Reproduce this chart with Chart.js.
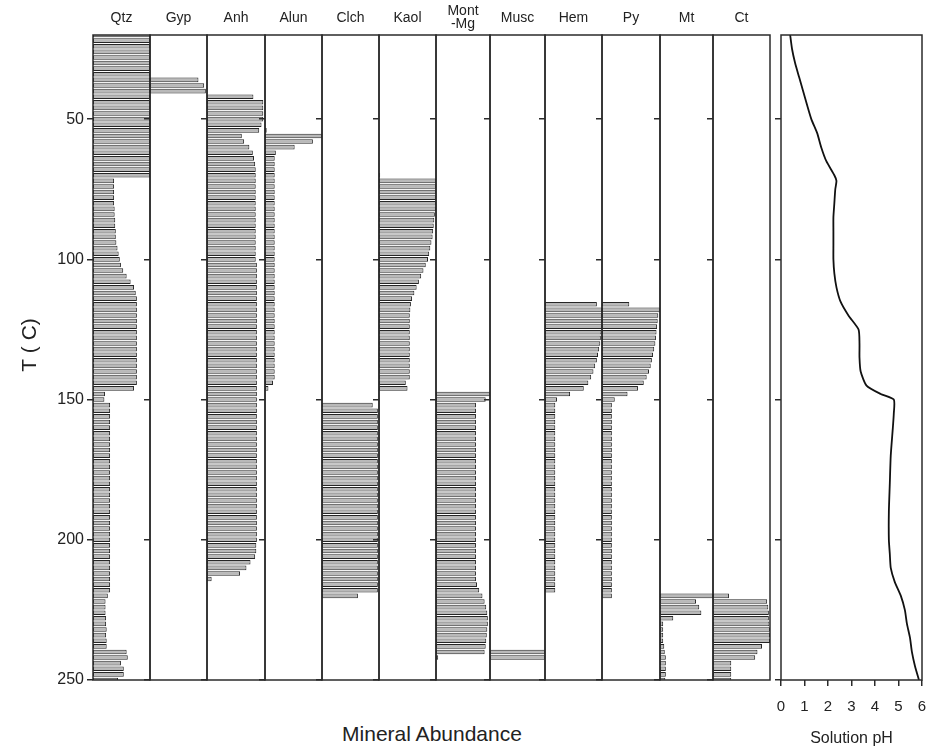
<!DOCTYPE html>
<html>
<head>
<meta charset="utf-8">
<script src="https://cdn.jsdelivr.net/npm/chart.js@4.4.1/dist/chart.umd.min.js"></script>
<style>
  body { margin: 0; background: #fff; width: 927px; height: 755px; position: relative; overflow: hidden;
         font-family: "Liberation Sans", Arial, sans-serif; }
  canvas { position: absolute; top: 0; }
  #xtitle { position: absolute; left: 282px; width: 300px; top: 722px; text-align: center; font-size: 21px; color: #222; }
</style>
</head>
<body>
<div id="xtitle">Mineral Abundance</div>
<script>
// temperature of each simulation step (deg C)
const temps = [
  20,22,24,26,28,30,32,34,36,38,
  40,42,44,46,48,50,52,54,56,58,
  60,62,64,66,68,70,72,74,76,78,
  80,82,84,86,88,90,92,94,96,98,
  100,102,104,106,108,110,112,114,116,118,
  120,122,124,126,128,130,132,134,136,138,
  140,142,144,146,148,150,152,154,156,158,
  160,162,164,166,168,170,172,174,176,178,
  180,182,184,186,188,190,192,194,196,198,
  200,202,204,206,208,210,212,214,216,218,
  220,222,224,226,228,230,232,234,236,238,
  240,242,244,246,248,250
];

// relative abundance, % of panel width, one value per temperature
const qtz = [
  100,100,100,100,100,100,100,100,100,100,
  100,100,100,100,100,100,100,100,100,100,
  100,100,100,100,100,100,37,37,37,37,
  37,38,38,39,39,40,40,41,43,45,
  47,49,53,59,66,72,75,77,77,77,
  77,77,77,77,77,77,77,77,77,77,
  77,77,77,72,21,20,30,30,30,30,
  30,30,30,30,30,30,30,30,30,30,
  30,30,30,30,30,30,30,30,30,30,
  30,30,30,30,30,30,30,30,30,30,
  26,22,22,22,23,23,24,23,24,24,
  59,61,49,54,54,44
];
const gyp = [
  0,0,0,0,0,0,0,0,85,95,
  98,0,0,0,0,0,0,0,0,0,
  0,0,0,0,0,0,0,0,0,0,
  0,0,0,0,0,0,0,0,0,0,
  0,0,0,0,0,0,0,0,0,0,
  0,0,0,0,0,0,0,0,0,0,
  0,0,0,0,0,0,0,0,0,0,
  0,0,0,0,0,0,0,0,0,0,
  0,0,0,0,0,0,0,0,0,0,
  0,0,0,0,0,0,0,0,0,0,
  0,0,0,0,0,0,0,0,0,0,
  0,0,0,0,0,0
];
const anh = [
  0,0,0,0,0,0,0,0,0,0,
  0,80,97,97,97,97,94,90,60,64,
  73,79,81,83,84,84,84,84,84,84,
  84,84,84,84,84,84,84,84,84,84,
  84,86,86,86,86,86,86,86,86,86,
  86,86,86,86,86,86,86,86,86,86,
  86,86,86,86,86,86,86,86,86,86,
  86,86,86,86,86,86,86,86,86,86,
  86,86,86,86,86,86,86,86,86,86,
  86,85,85,83,75,68,57,8,0,0,
  0,0,0,0,0,0,0,0,0,0,
  0,0,0,0,0,0
];
const alun = [
  0,0,0,0,0,0,0,0,0,0,
  0,0,0,0,0,0,0,3,100,84,
  52,19,17,17,17,17,17,17,17,17,
  17,17,17,17,17,17,17,17,17,17,
  17,17,17,17,17,17,17,17,17,17,
  17,17,17,17,17,17,17,17,17,17,
  17,17,14,6,0,0,0,0,0,0,
  0,0,0,0,0,0,0,0,0,0,
  0,0,0,0,0,0,0,0,0,0,
  0,0,0,0,0,0,0,0,0,0,
  0,0,0,0,0,0,0,0,0,0,
  0,0,0,0,0,0
];
const clch = [
  0,0,0,0,0,0,0,0,0,0,
  0,0,0,0,0,0,0,0,0,0,
  0,0,0,0,0,0,0,0,0,0,
  0,0,0,0,0,0,0,0,0,0,
  0,0,0,0,0,0,0,0,0,0,
  0,0,0,0,0,0,0,0,0,0,
  0,0,0,0,0,0,89,98,98,98,
  98,98,98,98,98,98,98,98,98,98,
  98,98,98,98,98,98,98,98,98,98,
  98,98,98,98,98,98,98,98,98,98,
  63,0,0,0,0,0,0,0,0,0,
  0,0,0,0,0,0
];
const kaol = [
  0,0,0,0,0,0,0,0,0,0,
  0,0,0,0,0,0,0,0,0,0,
  0,0,0,0,0,2,100,100,100,100,
  100,100,98,97,96,95,94,92,90,88,
  86,82,78,74,70,66,62,58,56,55,
  54,54,54,54,54,54,54,54,54,54,
  54,54,47,50,0,0,0,0,0,0,
  0,0,0,0,0,0,0,0,0,0,
  0,0,0,0,0,0,0,0,0,0,
  0,0,0,0,0,0,0,0,0,0,
  0,0,0,0,0,0,0,0,0,0,
  0,0,0,0,0,0
];
const montMg = [
  0,0,0,0,0,0,0,0,0,0,
  0,0,0,0,0,0,0,0,0,0,
  0,0,0,0,0,0,0,0,0,0,
  0,0,0,0,0,0,0,0,0,0,
  0,0,0,0,0,0,0,0,0,0,
  0,0,0,0,0,0,0,0,0,0,
  0,0,0,0,100,92,74,74,74,74,
  74,74,74,74,74,74,74,74,74,74,
  74,74,74,74,74,74,74,74,74,74,
  74,74,74,74,74,74,74,74,76,80,
  86,90,93,95,96,96,95,94,93,92,
  90,4,0,0,0,0
];
const musc = [
  0,0,0,0,0,0,0,0,0,0,
  0,0,0,0,0,0,0,0,0,0,
  0,0,0,0,0,0,0,0,0,0,
  0,0,0,0,0,0,0,0,0,0,
  0,0,0,0,0,0,0,0,0,0,
  0,0,0,0,0,0,0,0,0,0,
  0,0,0,0,0,0,0,0,0,0,
  0,0,0,0,0,0,0,0,0,0,
  0,0,0,0,0,0,0,0,0,0,
  0,0,0,0,0,0,0,0,0,0,
  0,0,0,0,0,0,0,0,0,0,
  100,100,0,0,0,0
];
const hem = [
  0,0,0,0,0,0,0,0,0,0,
  0,0,0,0,0,0,0,0,0,0,
  0,0,0,0,0,0,0,0,0,0,
  0,0,0,0,0,0,0,0,0,0,
  0,0,0,0,0,0,0,0,91,100,
  100,100,100,99,98,97,95,93,91,88,
  85,81,76,68,44,21,18,18,18,18,
  18,18,18,18,18,18,18,18,18,18,
  18,18,18,18,18,18,18,18,18,18,
  18,18,18,18,18,18,18,18,18,18,
  0,0,0,0,0,0,0,0,0,0,
  0,0,0,0,0,0
];
const py = [
  0,0,0,0,0,0,0,0,0,0,
  0,0,0,0,0,0,0,0,0,0,
  0,0,0,0,0,0,0,0,0,0,
  0,0,0,0,0,0,0,0,0,0,
  0,0,0,0,0,0,0,0,47,100,
  97,96,95,94,93,92,90,88,86,84,
  81,77,72,62,44,22,17,17,17,17,
  17,17,17,17,17,17,17,17,17,17,
  17,17,17,17,17,17,17,17,17,17,
  17,17,17,17,17,17,17,17,17,17,
  17,0,0,0,0,0,0,0,0,0,
  0,0,0,0,0,0
];
const mt = [
  0,0,0,0,0,0,0,0,0,0,
  0,0,0,0,0,0,0,0,0,0,
  0,0,0,0,0,0,0,0,0,0,
  0,0,0,0,0,0,0,0,0,0,
  0,0,0,0,0,0,0,0,0,0,
  0,0,0,0,0,0,0,0,0,0,
  0,0,0,0,0,0,0,0,0,0,
  0,0,0,0,0,0,0,0,0,0,
  0,0,0,0,0,0,0,0,0,0,
  0,0,0,0,0,0,0,0,0,0,
  100,68,74,78,25,6,6,6,6,8,
  9,11,11,11,11,10
];
const ct = [
  0,0,0,0,0,0,0,0,0,0,
  0,0,0,0,0,0,0,0,0,0,
  0,0,0,0,0,0,0,0,0,0,
  0,0,0,0,0,0,0,0,0,0,
  0,0,0,0,0,0,0,0,0,0,
  0,0,0,0,0,0,0,0,0,0,
  0,0,0,0,0,0,0,0,0,0,
  0,0,0,0,0,0,0,0,0,0,
  0,0,0,0,0,0,0,0,0,0,
  0,0,0,0,0,0,0,0,0,0,
  28,95,97,98,98,99,100,100,100,86,
  78,74,32,32,32,32
];

const minerals = [['Qtz'], ['Gyp'], ['Anh'], ['Alun'], ['Clch'], ['Kaol'], ['Mont', '-Mg'],
                  ['Musc'], ['Hem'], ['Py'], ['Mt'], ['Ct']];
const abundance = [qtz, gyp, anh, alun, clch, kaol, montMg, musc, hem, py, mt, ct];

// solution pH along the path
const phTemps  = [20,25,30,35,40,45,50,55,60,65,70,72,75,80,85,90,95,100,105,110,115,120,125,130,135,140,
                  145,148,150,155,160,170,180,190,200,205,210,215,220,225,230,235,240,245,250];
const phValues = [0.39,0.47,0.6,0.77,0.94,1.11,1.29,1.54,1.71,1.93,2.27,2.36,2.31,2.27,2.23,2.23,2.23,2.23,2.27,2.36,2.53,2.87,3.3,3.34,3.34,3.39,
                  3.64,4.24,4.8,4.8,4.76,4.67,4.63,4.59,4.59,4.63,4.67,4.84,5.1,5.27,5.36,5.49,5.57,5.7,5.87];

const tempTicks = [50, 100, 150, 200, 250];
const phTicks = [0, 1, 2, 3, 4, 5, 6];
const tempTitle = 'T ( C)';

// layout (pixels)
const edges = [93, 150, 207, 265, 322, 379, 436, 490, 545, 602, 660, 713, 770];
const PH_LEFT = 781, PH_RIGHT = 921;
const TOP = 35, BOTTOM = 680, H = 755;
const FONT = "'Liberation Sans', Arial, sans-serif";

Chart.defaults.font.family = FONT;
Chart.defaults.color = '#222';

const frame = {
  id: 'frame',
  afterDatasetsDraw(chart, args, opts) {
    const { ctx, chartArea: a } = chart;
    ctx.save();
    ctx.strokeStyle = '#2b2b2b';
    ctx.lineWidth = 1.5;
    ctx.strokeRect(a.left, a.top, a.right - a.left, a.bottom - a.top);
    ctx.fillStyle = '#222';
    ctx.textAlign = 'center';
    ctx.textBaseline = 'middle';
    if (opts.name) {
      ctx.font = '14px ' + FONT;
      const n = opts.name.length;
      opts.name.forEach((s, i) => ctx.fillText(s, (a.left + a.right) / 2, 18 - (n - 1) * 7 + i * 13));
    }
    if (opts.yTitle) {
      // axis title, a little above the middle as in the original
      ctx.font = '21px ' + FONT;
      ctx.translate(30, 345);
      ctx.rotate(-Math.PI / 2);
      ctx.fillText(opts.yTitle, 0, 0);
    }
    ctx.restore();
  }
};

function addCanvas(left, width) {
  const cv = document.createElement('canvas');
  cv.width = width;
  cv.height = H;
  cv.style.left = left + 'px';
  cv.style.width = width + 'px';
  cv.style.height = H + 'px';
  document.body.appendChild(cv);
  return cv;
}

function noPad(s) {
  s.paddingLeft = s.paddingRight = s.paddingTop = s.paddingBottom = 0;
}

function tempAxis(axisW, labels) {
  return {
    type: 'linear', reverse: true, min: 20, max: 250, offset: false,
    afterBuildTicks: s => { s.ticks = tempTicks.map(v => ({ value: v })); },
    afterFit: s => { s.width = axisW; noPad(s); },
    grid: { drawOnChartArea: false, offset: false, tickLength: 6, color: '#2b2b2b', lineWidth: 1.5 },
    border: { display: false },
    ticks: { display: labels, font: { size: 16 }, color: '#222', padding: 3 }
  };
}

abundance.forEach((vals, i) => {
  const axisW = i === 0 ? edges[0] : 8;
  const left = edges[i] - axisW;
  const cv = addCanvas(left, edges[i + 1] - left + 2);
  new Chart(cv, {
    type: 'bar',
    data: {
      datasets: [{
        data: temps.map((t, k) => ({ x: vals[k] || null, y: t })),
        backgroundColor: '#b9b9b9',
        borderColor: '#262626',
        borderWidth: 1,
        borderSkipped: false,
        barPercentage: 0.82,
        categoryPercentage: 1
      }]
    },
    options: {
      indexAxis: 'y',
      responsive: false,
      animation: false,
      layout: { padding: { top: TOP, bottom: H - BOTTOM, left: 0, right: 2 } },
      plugins: {
        legend: { display: false }, tooltip: { enabled: false },
        frame: { name: minerals[i], yTitle: i === 0 ? tempTitle : null }
      },
      scales: {
        x: { type: 'linear', display: false, min: 0, max: 100 },
        y: tempAxis(axisW, i === 0)
      }
    },
    plugins: [frame]
  });
});

// pH panel
const phCv = addCanvas(PH_LEFT - 8, 927 - (PH_LEFT - 8));
new Chart(phCv, {
  type: 'scatter',
  data: {
    datasets: [{
      data: phTemps.map((t, k) => ({ x: phValues[k], y: t })),
      showLine: true,
      pointRadius: 0,
      borderColor: '#111',
      borderWidth: 1.8,
      tension: 0.2
    }]
  },
  options: {
    responsive: false,
    animation: false,
    layout: { padding: { top: TOP, bottom: 0, left: 0, right: 927 - PH_RIGHT - 1 } },
    plugins: { legend: { display: false }, tooltip: { enabled: false }, frame: {} },
    scales: {
      x: {
        type: 'linear', min: 0, max: 6,
        afterBuildTicks: s => { s.ticks = phTicks.map(v => ({ value: v })); },
        afterFit: s => { s.height = H - BOTTOM; noPad(s); },
        grid: { drawOnChartArea: false, tickLength: 6, color: '#2b2b2b', lineWidth: 1.5 },
        border: { display: false },
        ticks: { font: { size: 15 }, color: '#222', padding: 12, maxRotation: 0 },
        title: { display: true, text: 'Solution pH', font: { size: 16 }, color: '#222', padding: { top: 0, bottom: 7 } }
      },
      y: tempAxis(8, false)
    }
  },
  plugins: [frame]
});
</script>
</body>
</html>
